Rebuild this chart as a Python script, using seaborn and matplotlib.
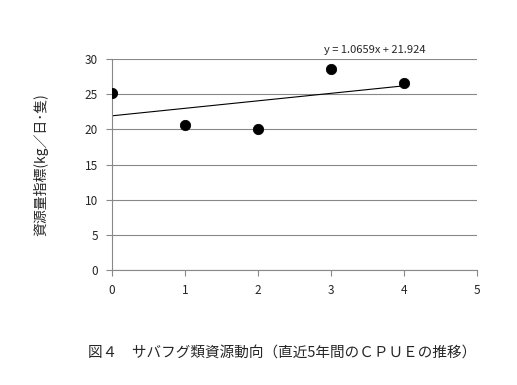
import numpy as np
import pandas as pd
import matplotlib
matplotlib.use("Agg")
import matplotlib.pyplot as plt
import seaborn as sns

# data
years = [0, 1, 2, 3, 4]
cpue = [25.2, 20.6, 20.0, 28.55, 26.55]
slope = 1.0659
intercept = 21.924
eq_label = "y = 1.0659x + 21.924"
ylabel = "資源量指標(kg／日･隻)"
caption = "図４　サバフグ類資源動向（直近5年間のＣＰＵＥの推移）"

sns.set_style("white")
plt.rcParams['font.family'] = ['Noto Sans CJK JP', 'DejaVu Sans']

df = pd.DataFrame({"x": years, "y": cpue})

fig = plt.figure(figsize=(5.17, 3.85), dpi=100)
ax = fig.add_axes([0.2166, 0.2987, 0.706, 0.548])

ax.grid(axis="y", color="#888888", linewidth=0.8)
ax.set_axisbelow(True)

sns.scatterplot(data=df, x="x", y="y", ax=ax, color="black", s=55,
                edgecolor="black", zorder=3, legend=False)

# linear trend line (from the equation on the chart)
xs = np.array([min(years), max(years)])
ax.plot(xs, slope * xs + intercept, color="black", linewidth=0.8, zorder=2)

ax.set_xlim(0, 5)
ax.set_ylim(0, 30)
ax.set_xticks(range(0, 6))
ax.set_yticks(range(0, 31, 5))
ax.set_xlabel("")
ax.set_ylabel(ylabel, fontsize=10, labelpad=26)
ax.tick_params(axis="both", labelsize=8.5, length=4, color="#888888",
               direction="out", bottom=True, left=True, pad=6)
for side in ["top", "right"]:
    ax.spines[side].set_visible(False)
for side in ["left", "bottom"]:
    ax.spines[side].set_color("#888888")
    ax.spines[side].set_linewidth(0.8)

ax.text(3.6, 30.6, eq_label, fontsize=8, ha="center", va="bottom")

fig.text(0.545, 0.085, caption, fontsize=10.5, ha="center", va="center")

fig.savefig("out.png", dpi=100)
